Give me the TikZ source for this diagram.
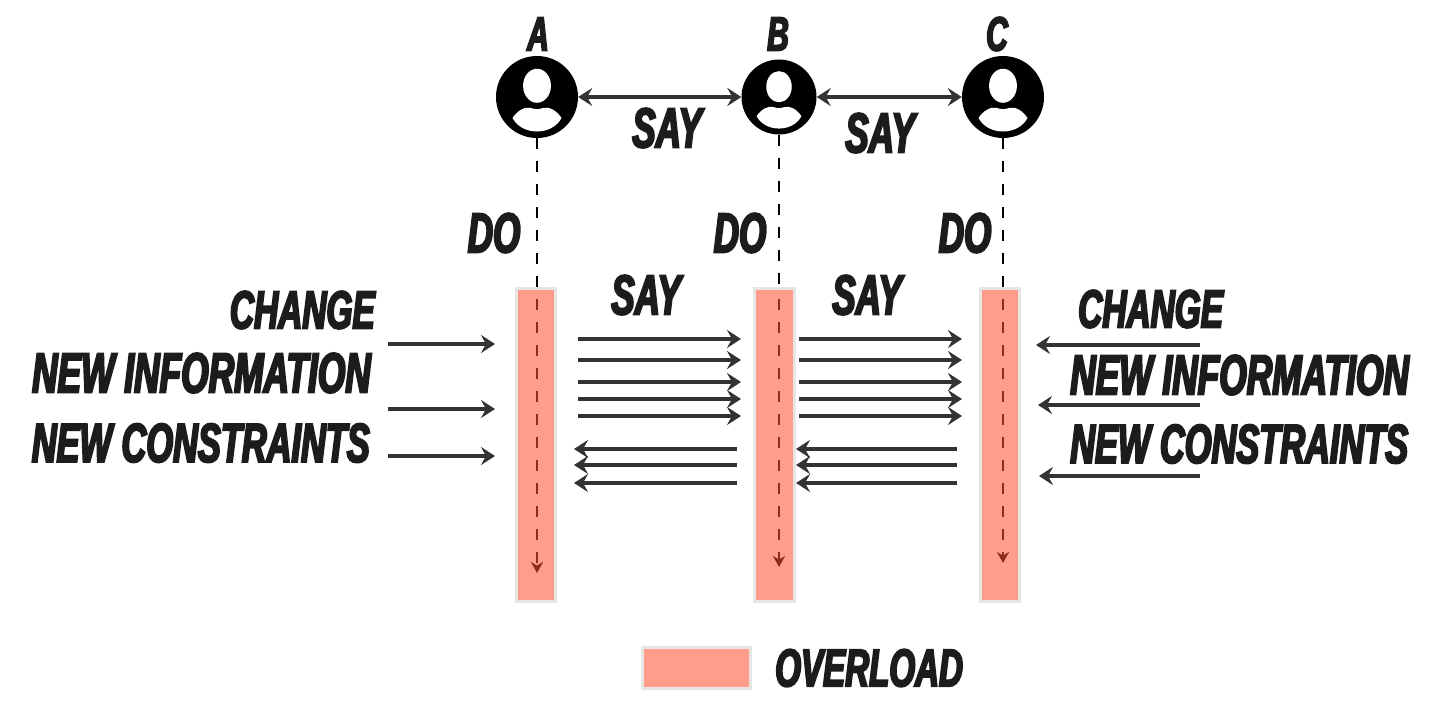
\documentclass[tikz,border=0pt]{standalone}
\usepackage{fontspec}
\setmainfont[FakeStretch=0.625,FakeBold=3.6]{Liberation Sans}
\usetikzlibrary{arrows.meta, positioning, shapes.geometric}
\definecolor{barfill}{HTML}{FF9C8C}
\definecolor{barline}{HTML}{E8E5E5}
\definecolor{inkdark}{HTML}{333333}
\definecolor{dashred}{HTML}{8E2C1C}
\definecolor{labelink}{HTML}{1C1C1C}

\newcommand{\personicon}[3]{%
  \node[personbody, minimum size=#3*2pt] (person#1) at (#2) {};
  \node[fill=white, ellipse, inner sep=0pt, minimum width=#3*0.68pt, minimum height=#3*0.83pt, above=#3*-0.146pt of person#1.center] (head#1) {};
  \fill[white, shift={(#2)}, scale=#3/41] (-24.5,21) .. controls (-20,14) and (-12,9) .. (-6,11) .. controls (-2,12.5) and (2,12.5) .. (6,11) .. controls (12,9) and (20,14) .. (24.5,21) .. controls (15,39) and (-15,39) .. (-24.5,21) -- cycle;
}

\begin{document}
\begin{tikzpicture}[
  x=1pt, y=-1pt,
  personbody/.style={circle, fill=black, inner sep=0pt},
  overbar/.style={draw=barline, line width=3pt, fill=barfill, inner sep=0pt},
  word/.style={font=\fontsize{#1}{#1}\selectfont\bfseries\itshape, text=labelink, inner sep=0pt},
  word/.default=56,
  fleche/.style={-{Stealth[length=14pt, width=18pt, inset=5pt]}, line width=3.6pt, draw=inkdark},
  fleches/.style={{Stealth[length=14pt, width=18pt, inset=5pt]}-{Stealth[length=14pt, width=18pt, inset=5pt]}, line width=3.6pt, draw=inkdark},
  lien/.style={dash pattern=on 11pt off 12pt, line width=2.2pt, draw=black},
  lienbar/.style={dash pattern=on 11pt off 12pt, line width=2.4pt, draw=dashred, -{Stealth[length=11pt, width=12pt]}}
]
  \useasboundingbox (0,0) rectangle (1456,725);

  % bars
  \node[overbar, minimum width=39pt, minimum height=313pt] (barA) at (536,445) {};
  \node[overbar, minimum width=40pt, minimum height=313pt] (barB) at (774.5,445) {};
  \node[overbar, minimum width=39pt, minimum height=313pt] (barC) at (1000,445) {};

  % people
  \personicon{A}{537,97}{41}
  \personicon{B}{779,97}{37.5}
  \personicon{C}{1003,97}{41}
  \node[word=48] (nameA) at (538,34) {A};
  \node[word=48] (nameB) at (778,34) {B};
  \node[word=48] (nameC) at (997,34) {C};

  \draw[fleches] (personA) -- (personB);
  \draw[fleches] (personB) -- (personC);
  \node[word] (sayTopA) at (667,128) {SAY};
  \node[word] (sayTopB) at (880,133) {SAY};

  % do lines
  \coordinate (topA) at (537,287);
  \coordinate (topB) at (779,287);
  \coordinate (topC) at (1003,287);
  \coordinate (endA) at (537,573);
  \coordinate (endB) at (779,567);
  \coordinate (endC) at (1003,563);
  \draw[lien] (personA) -- (topA);
  \draw[lien] (personB) -- (topB);
  \draw[lien] (personC) -- (topC);
  \draw[lienbar] (topA) ++(0,12) -- (endA);
  \draw[lienbar] (topB) ++(0,12) -- (endB);
  \draw[lienbar] (topC) ++(0,12) -- (endC);
  \node[word] (doA) at (494,233) {DO};
  \node[word] (doB) at (740,233) {DO};
  \node[word] (doC) at (965,233) {DO};

  % say arrows
  \node[word] (sayA) at (646,295) {SAY};
  \node[word] (sayB) at (867,295) {SAY};
  \foreach \y in {339,360,382,399,416} {
    \coordinate (abS\y) at (578,\y);
    \coordinate (abE\y) at (741,\y);
    \coordinate (bcS\y) at (799,\y);
    \coordinate (bcE\y) at (962,\y);
    \draw[fleche] (abS\y) -- (abE\y);
    \draw[fleche] (bcS\y) -- (bcE\y);
  }
  \foreach \y in {449,465,483} {
    \coordinate (baS\y) at (737,\y);
    \coordinate (baE\y) at (574,\y);
    \coordinate (cbS\y) at (957,\y);
    \coordinate (cbE\y) at (796,\y);
    \draw[fleche] (baS\y) -- (baE\y);
    \draw[fleche] (cbS\y) -- (cbE\y);
  }

  % outside arrows
  \foreach \y in {344,409,456} {
    \coordinate (inS\y) at (388,\y);
    \coordinate (inE\y) at (495,\y);
    \draw[fleche] (inS\y) -- (inE\y);
  }
  \foreach \y/\e in {345/1036,405/1038,476/1039} {
    \coordinate (outS\y) at (1200,\y);
    \coordinate (outE\y) at (\e,\y);
    \draw[fleche] (outS\y) -- (outE\y);
  }

  % left and right texts
  \node[word=53.5, anchor=east] (changeL) at (375,310) {CHANGE};
  \node[word=56.5, anchor=east] (infoL) at (371,373) {NEW INFORMATION};
  \node[word=55, anchor=east] (consL) at (370,443) {NEW CONSTRAINTS};
  \node[word=53.5, anchor=west] (changeR) at (1078,309) {CHANGE};
  \node[word=56.5, anchor=west] (infoR) at (1070,375) {NEW INFORMATION};
  \node[word=55, anchor=west] (consR) at (1070,444) {NEW CONSTRAINTS};

  % legend
  \node[overbar, minimum width=108pt, minimum height=41pt] (legend) at (696.5,668) {};
  \node[word=53, right=23pt of legend] (legendText) {OVERLOAD};
\end{tikzpicture}
\end{document}
